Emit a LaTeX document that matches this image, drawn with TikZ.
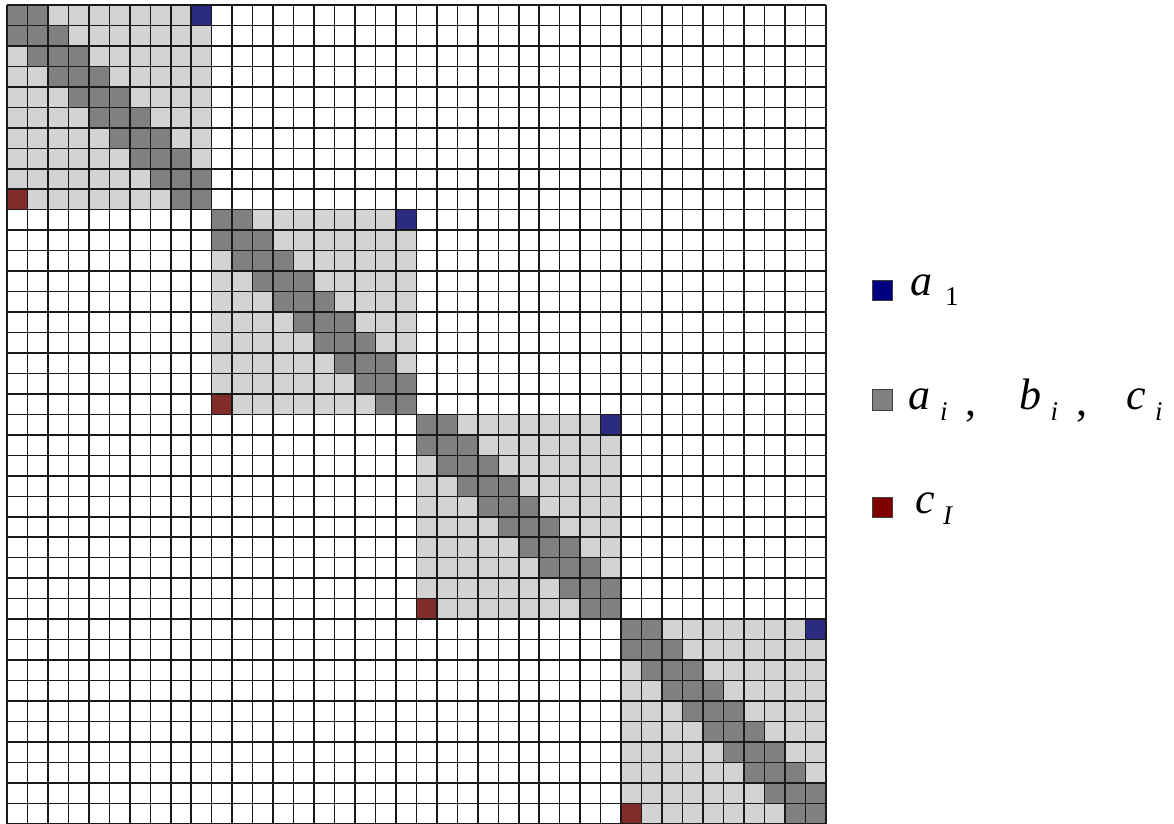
\documentclass[tikz,border=0pt]{standalone}
\usepackage{fontspec}
\setmainfont{Liberation Serif}
\newcommand\keymainfont{\fontsize{44}{50}\selectfont}
\newcommand\keysubfont{\fontsize{27}{30}\selectfont}
\definecolor{cellLight}{HTML}{D3D3D3}
\definecolor{cellDark}{HTML}{808080}
\definecolor{cellBlue}{HTML}{2B2B82}
\definecolor{cellRed}{HTML}{822B2B}
\definecolor{keyBlue}{HTML}{000080}
\definecolor{keyGray}{HTML}{808080}
\definecolor{keyRed}{HTML}{800000}
\tikzset{
  gridline/.style={line width=1.5pt, draw=black!90},
  keybox/.style={line width=0.8pt, draw=black!75},
  keytext/.style={inner sep=0pt, anchor=base west},
}
\begin{document}
\begin{tikzpicture}[x=1pt,y=-1pt]
\useasboundingbox (0,0) rectangle (1174,823);
\def\cs{20.47}
\def\ox{7}
\def\oy{5}
% four 10x10 tridiagonal blocks along the diagonal
\foreach \b in {0,...,3}{
  \pgfmathsetmacro{\bx}{\ox+10*\b*\cs}
  \pgfmathsetmacro{\by}{\oy+10*\b*\cs}
  \fill[cellLight] (\bx,\by) rectangle ({\bx+10*\cs},{\by+10*\cs});
  \foreach \k in {0,...,9}{
    \fill[cellDark] ({\bx+\k*\cs},{\by+\k*\cs}) rectangle ({\bx+(\k+1)*\cs},{\by+(\k+1)*\cs});
  }
  \foreach \k in {0,...,8}{
    \fill[cellDark] ({\bx+(\k+1)*\cs},{\by+\k*\cs}) rectangle ({\bx+(\k+2)*\cs},{\by+(\k+1)*\cs});
    \fill[cellDark] ({\bx+\k*\cs},{\by+(\k+1)*\cs}) rectangle ({\bx+(\k+1)*\cs},{\by+(\k+2)*\cs});
  }
  \fill[cellBlue] ({\bx+9*\cs},\by) rectangle ({\bx+10*\cs},{\by+\cs});
  \fill[cellRed] (\bx,{\by+9*\cs}) rectangle ({\bx+\cs},{\by+10*\cs});
}
% 40x40 grid lines
\foreach \i in {0,...,40}{
  \draw[gridline] ({\ox+\i*\cs},\oy) -- ({\ox+\i*\cs},{\oy+40*\cs});
  \draw[gridline] (\ox,{\oy+\i*\cs}) -- ({\ox+40*\cs},{\oy+\i*\cs});
}
% legend
\draw[keybox, fill=keyBlue] (872,280) rectangle (892,300);
\draw[keybox, fill=keyGray] (872,389.5) rectangle (892,410);
\draw[keybox, fill=keyRed] (872,497) rectangle (892,517);
\node[keytext] (la1) at (910,295) {\keymainfont\itshape a};
\node[keytext] (ls1) at (945,305.5) {\keysubfont 1};
\node[keytext] (la) at (908,409) {\keymainfont\itshape a};
\node[keytext] (lai) at (940,420) {\keysubfont\itshape i};
\node[keytext] (lc1) at (965,415) {\keymainfont ,};
\node[keytext] (lb) at (1019,409) {\keymainfont\itshape b};
\node[keytext] (lbi) at (1050.5,420) {\keysubfont\itshape i};
\node[keytext] (lc2) at (1076.5,415) {\keymainfont ,};
\node[keytext] (lc) at (1126.5,409) {\keymainfont\itshape c};
\node[keytext] (lci) at (1155,420) {\keysubfont\itshape i};
\node[keytext] (lcI) at (915,513) {\keymainfont\itshape c};
\node[keytext] (lI) at (943,524) {\keysubfont\itshape I};
\end{tikzpicture}
\end{document}
